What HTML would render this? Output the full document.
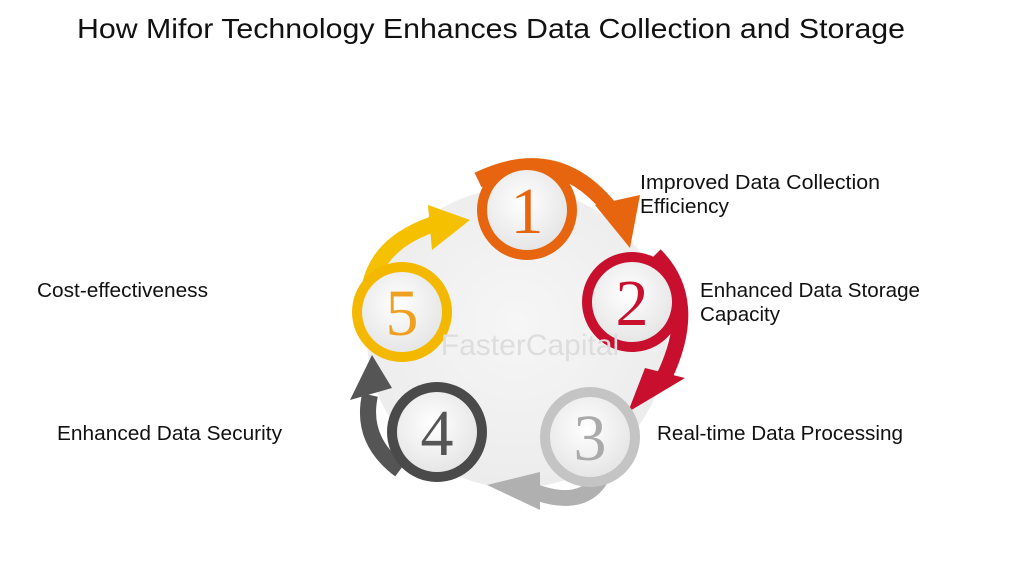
<!DOCTYPE html>
<html><head><meta charset="utf-8"><style>
html,body{margin:0;padding:0;background:#fff;}
svg{display:block;}
.s{font-family:"Liberation Sans",sans-serif;}
.n{font-family:"Liberation Serif",serif;font-size:66px;}
</style></head><body>
<svg width="1024" height="576" viewBox="0 0 1024 576">
<defs>
<radialGradient id="bg" cx="50%" cy="45%" r="55%"><stop offset="0" stop-color="#f6f6f6"/><stop offset="1" stop-color="#ececec"/></radialGradient>
<radialGradient id="wh" cx="45%" cy="40%" r="60%"><stop offset="0" stop-color="#ffffff"/><stop offset="1" stop-color="#e6e6e6"/></radialGradient>
</defs>
<text class="s" x="77" y="38" font-size="28" textLength="828" lengthAdjust="spacingAndGlyphs" fill="#111">How Mifor Technology Enhances Data Collection and Storage</text>

<circle cx="517" cy="338" r="150" fill="url(#bg)"/>

<path d="M478 180 Q560 140 615 215" fill="none" stroke="#e8650f" stroke-width="16"/>
<polygon points="595,205 640,195 630,248" fill="#e8650f"/>
<path d="M655 255 Q700 300 665 375" fill="none" stroke="#c8102e" stroke-width="16"/>
<polygon points="645,368 685,378 628,412" fill="#c8102e"/>
<path d="M600 480 Q580 510 530 490" fill="none" stroke="#b0b0b0" stroke-width="16"/>
<polygon points="540,472 540,510 487,485" fill="#b0b0b0"/>
<path d="M400 470 Q360 440 370 395" fill="none" stroke="#555" stroke-width="16"/>
<polygon points="350,400 392,388 372,355" fill="#555"/>
<path d="M370 285 Q380 240 440 222" fill="none" stroke="#f5c000" stroke-width="16"/>
<polygon points="428,205 470,220 432,250" fill="#f5c000"/>

<g text-anchor="middle">
<circle cx="527" cy="210" r="50" fill="#e8650f"/><circle cx="527" cy="210" r="40" fill="url(#wh)"/>
<text class="n" x="527" y="233" fill="#e8650f">1</text>
<circle cx="632" cy="302" r="50" fill="#c8102e"/><circle cx="632" cy="302" r="40" fill="url(#wh)"/>
<text class="n" x="632" y="325" fill="#c8102e">2</text>
<circle cx="590" cy="437" r="50" fill="#c4c4c4"/><circle cx="590" cy="437" r="40" fill="url(#wh)"/>
<text class="n" x="590" y="460" fill="#aaa">3</text>
<circle cx="437" cy="432" r="50" fill="#4a4a4a"/><circle cx="437" cy="432" r="40" fill="url(#wh)"/>
<text class="n" x="437" y="455" fill="#555">4</text>
<circle cx="402" cy="312" r="50" fill="#f5b800"/><circle cx="402" cy="312" r="40" fill="url(#wh)"/>
<text class="n" x="402" y="335" fill="#f0a020">5</text>
</g>
<text class="s" x="530" y="355" font-size="30" fill="#ddd" text-anchor="middle">FasterCapital</text>

<g class="s" font-size="20" fill="#111">
<text x="640" y="189" textLength="240" lengthAdjust="spacingAndGlyphs">Improved Data Collection</text>
<text x="640" y="213" textLength="89" lengthAdjust="spacingAndGlyphs">Efficiency</text>
<text x="700" y="297" textLength="220" lengthAdjust="spacingAndGlyphs">Enhanced Data Storage</text>
<text x="700" y="321" textLength="80" lengthAdjust="spacingAndGlyphs">Capacity</text>
<text x="657" y="440" textLength="246" lengthAdjust="spacingAndGlyphs">Real-time Data Processing</text>
<text x="57" y="440" textLength="225" lengthAdjust="spacingAndGlyphs">Enhanced Data Security</text>
<text x="37" y="297" textLength="171" lengthAdjust="spacingAndGlyphs">Cost-effectiveness</text>
</g>
</svg>
</body></html>
